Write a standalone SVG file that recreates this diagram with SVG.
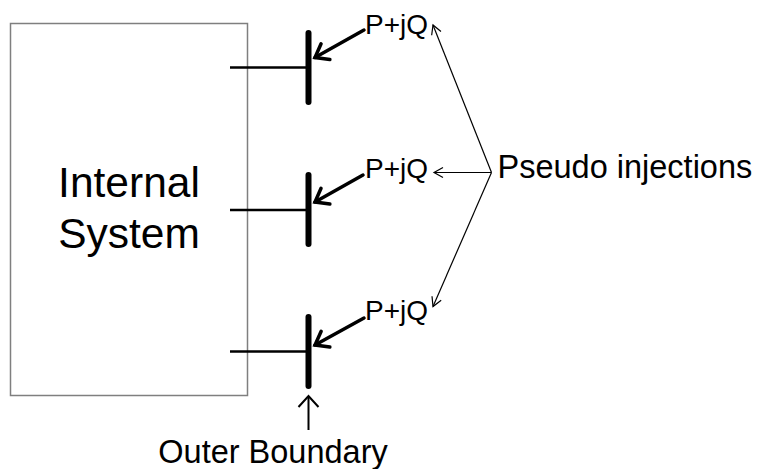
<svg xmlns="http://www.w3.org/2000/svg" width="762" height="469" viewBox="0 0 762 469">
<style>
text{font-family:"Liberation Sans",Arial,sans-serif;fill:#000}
.big{font-size:42.5px}
.lab{font-size:32.5px}
.pq{font-size:28px}
.bus{stroke:#000;stroke-width:6;stroke-linecap:round;fill:none}
.feed{stroke:#000;stroke-width:2.5;fill:none}
.inj{stroke:#000;stroke-width:3.5;fill:none;stroke-linecap:round}
.thin{stroke:#000;stroke-width:1.2;fill:none}
.ob{stroke:#000;stroke-width:2;fill:none}
</style>
<defs>
<marker id="hThick" markerUnits="userSpaceOnUse" viewBox="-16 -12 20 24" markerWidth="20" markerHeight="24" refX="0" refY="0" orient="auto">
<path d="M-12,-9 L0,0 L-12,9" fill="none" stroke="#000" stroke-width="3.5" stroke-linecap="round" stroke-linejoin="miter"/>
</marker>
<marker id="hThin" markerUnits="userSpaceOnUse" viewBox="-12 -8 14 16" markerWidth="14" markerHeight="16" refX="0" refY="0" orient="auto">
<path d="M-9,-5 L0,0 L-9,5" fill="none" stroke="#000" stroke-width="1.2"/>
</marker>
<marker id="hOb" markerUnits="userSpaceOnUse" viewBox="-14 -12 16 24" markerWidth="16" markerHeight="24" refX="0" refY="0" orient="auto">
<path d="M-11,-10 L0,0 L-11,10" fill="none" stroke="#000" stroke-width="2"/>
</marker>
</defs>
<g id="internal-system">
<rect x="10.5" y="23.5" width="237" height="372" fill="#fff" stroke="#7f7f7f" stroke-width="1.5"/>
<text class="big" x="129" y="196.5" text-anchor="middle">Internal</text>
<text class="big" x="129" y="248" text-anchor="middle">System</text>
</g>
<g id="bus1">
<line class="feed" x1="230" y1="67.5" x2="308.5" y2="67.5"/>
<line class="bus" x1="308.5" y1="33" x2="308.5" y2="102"/>
<text class="pq" x="365" y="33.5">P+jQ</text>
</g>
<g id="bus2">
<line class="feed" x1="230" y1="210" x2="308.5" y2="210"/>
<line class="bus" x1="308.5" y1="175" x2="308.5" y2="244"/>
<text class="pq" x="365" y="177.5">P+jQ</text>
</g>
<g id="bus3">
<line class="feed" x1="230" y1="351.5" x2="308.5" y2="351.5"/>
<line class="bus" x1="308.5" y1="317" x2="308.5" y2="386"/>
<text class="pq" x="365" y="320">P+jQ</text>
</g>
<g id="pseudo-injections">
<text class="lab" x="497.5" y="177.5">Pseudo injections</text>
</g>
<g id="outer-boundary">
<text class="lab" x="273" y="463" text-anchor="middle">Outer Boundary</text>
</g>
<g id="connectors">
<line class="inj" x1="364" y1="30" x2="315" y2="57.5" marker-end="url(#hThick)"/>
<line class="inj" x1="363" y1="175" x2="315" y2="202" marker-end="url(#hThick)"/>
<line class="inj" x1="364" y1="318" x2="315" y2="345" marker-end="url(#hThick)"/>
<line class="thin" x1="491.5" y1="172.5" x2="433" y2="25" marker-end="url(#hThin)"/>
<line class="thin" x1="491.5" y1="172.5" x2="434" y2="172.5" marker-end="url(#hThin)"/>
<line class="thin" x1="491.5" y1="172.5" x2="433" y2="306.5" marker-end="url(#hThin)"/>
<line class="ob" x1="308.5" y1="430" x2="308.5" y2="396" marker-end="url(#hOb)"/>
</g>
</svg>
